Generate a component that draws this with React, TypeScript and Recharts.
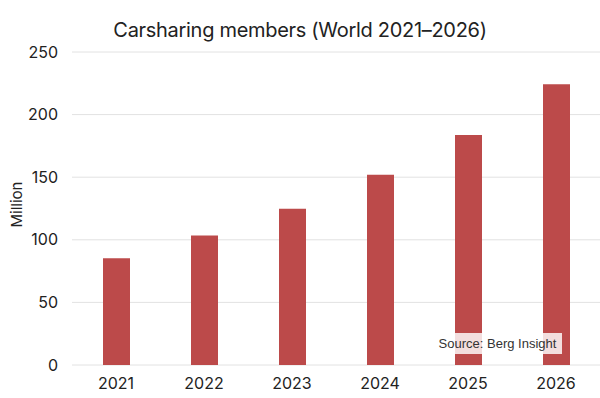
import React from 'react';
import { BarChart, Bar, XAxis, YAxis, CartesianGrid } from 'recharts';

const years = ['2021', '2022', '2023', '2024', '2025', '2026'];
const members = [85.3, 103.4, 124.9, 151.9, 183.8, 224.3];
const yTicks = [0, 50, 100, 150, 200, 250];

const data = years.map((y, i) => ({ year: y, members: members[i] }));

const FONT = 'Inter, "Noto Sans", sans-serif';

export default function App() {
  return (
    <div style={{ position: 'absolute', left: 0, top: 0, width: 600, height: 398, background: '#fff', fontFamily: FONT }}>
      <div style={{ position: 'absolute', left: 0, top: 18, width: 600, textAlign: 'center', fontSize: 20, color: '#222', letterSpacing: -0.3 }}>
        Carsharing members (World 2021–2026)
      </div>
      <BarChart width={600} height={398} data={data} margin={{ top: 52, right: 0, bottom: 0, left: 0 }} barSize={27}>
        <CartesianGrid vertical={false} stroke="#e2e2e2" />
        <XAxis
          dataKey="year"
          axisLine={false}
          tickLine={false}
          height={33}
          tickSize={6}
          tickMargin={7}
          tick={{ fontSize: 16, fill: '#222', fontFamily: FONT }}
        />
        <YAxis
          domain={[0, 250]}
          ticks={yTicks}
          axisLine={false}
          tickLine={false}
          width={72}
          tickSize={6}
          tickMargin={8}
          tick={{ fontSize: 16, fill: '#222', fontFamily: FONT }}
          label={({ viewBox }: any) => (
            <text
              x={16}
              y={viewBox.y + viewBox.height / 2 - 4}
              transform={`rotate(-90, 16, ${viewBox.y + viewBox.height / 2 - 4})`}
              textAnchor="middle"
              dominantBaseline="central"
              fontSize={15}
              fill="#222"
              fontFamily={FONT}
            >
              Million
            </text>
          )}
        />
        <Bar dataKey="members" fill="#bc4a4a" isAnimationActive={false} />
      </BarChart>
      <div
        style={{
          position: 'absolute',
          left: 433,
          top: 333,
          width: 129,
          height: 21,
          background: 'rgba(255,255,255,0.82)',
          fontFamily: '"Liberation Sans", Arial, sans-serif',
          fontSize: 13,
          color: '#333',
          lineHeight: '21px',
          textAlign: 'center',
        }}
      >
        Source: Berg Insight
      </div>
    </div>
  );
}
